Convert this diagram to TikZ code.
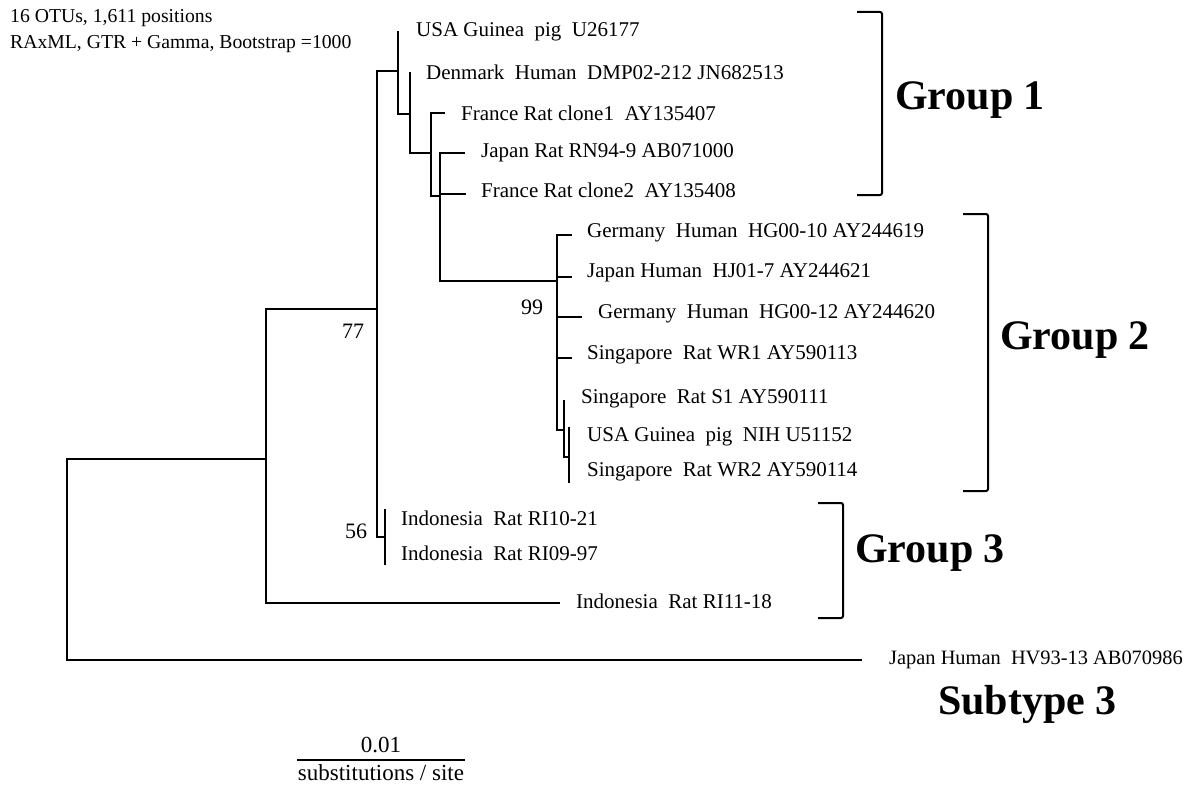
\documentclass[tikz,border=0pt]{standalone}
\usepackage{fontspec}
\setmainfont{Liberation Serif}
\usetikzlibrary{positioning, calc}

\begin{document}
\begin{tikzpicture}[
        x=1pt, y=-1pt,
        branch/.style={line width=2pt},
        leaf/.style={anchor=west, inner sep=0pt, font=\fontsize{21}{25}\selectfont},
        boot/.style={inner sep=0pt, font=\fontsize{22}{26}\selectfont},
        note/.style={anchor=west, inner sep=0pt, font=\fontsize{19.7}{23}\selectfont},
        grouplabel/.style={anchor=west, inner sep=0pt, font=\fontsize{42}{48}\selectfont\bfseries},
        bracket/.style={line width=2pt, rounded corners=2pt}
    ]
    \useasboundingbox (0,0) rectangle (1196,789);

    % header
    \node[note] (otus) at (10,18) {16 OTUs, 1,611 positions};
    \node[note] (method) at (10,44) {RAxML, GTR + Gamma, Bootstrap =1000};

    % internal nodes
    \coordinate (n0) at (67,560);
    \coordinate (n1) at (266,459);
    \coordinate (n2) at (377,309);
    \coordinate (n3) at (398,71);
    \coordinate (n4) at (410,114);
    \coordinate (n5) at (431,153);
    \coordinate (n6) at (440,196);
    \coordinate (n7) at (557,281);
    \coordinate (n8) at (564,430);
    \coordinate (n9) at (569,457);
    \coordinate (n10) at (385,537);

    % tips
    \coordinate (t1) at (398,31);
    \coordinate (t2) at (410,72);
    \coordinate (t3) at (445,113);
    \coordinate (t4) at (465,153);
    \coordinate (t5) at (466,194);
    \coordinate (t6) at (572,235);
    \coordinate (t7) at (572,277);
    \coordinate (t8) at (582,317);
    \coordinate (t9) at (572,358);
    \coordinate (t10) at (564,400);
    \coordinate (t11) at (569,427);
    \coordinate (t12) at (569,483);
    \coordinate (t13) at (385,509);
    \coordinate (t14) at (385,565);
    \coordinate (t15) at (560,603);
    \coordinate (t16) at (862,660);

    % branches
    \draw [branch] (n0) |- (n1);
    \draw [branch] (n0) |- (t16);
    \draw [branch] (n1) |- (n2);
    \draw [branch] (n1) |- (t15);
    \draw [branch] (n2) |- (n3);
    \draw [branch] (n2) |- (n10);
    \draw [branch] (n3) |- (t1);
    \draw [branch] (n3) |- (n4);
    \draw [branch] (n4) |- (t2);
    \draw [branch] (n4) |- (n5);
    \draw [branch] (n5) |- (t3);
    \draw [branch] (n5) |- (n6);
    \draw [branch] (n6) |- (t4);
    \draw [branch] (n6) |- (t5);
    \draw [branch] (n6) |- (n7);
    \draw [branch] (n7) |- (t6);
    \draw [branch] (n7) |- (t7);
    \draw [branch] (n7) |- (t8);
    \draw [branch] (n7) |- (t9);
    \draw [branch] (n7) |- (n8);
    \draw [branch] (n8) |- (t10);
    \draw [branch] (n8) |- (n9);
    \draw [branch] (n9) |- (t11);
    \draw [branch] (n9) |- (t12);
    \draw [branch] (n10) |- (t13);
    \draw [branch] (n10) |- (t14);

    % taxa
    \node[leaf] (usagp1) at (416,32) {USA Guinea\ \ pig\ \ U26177};
    \node[leaf] (denmark) at (426,72) {Denmark\ \ Human\ \ DMP02-212 JN682513};
    \node[leaf] (franceA) at (461,113) {France Rat clone1\ \ AY135407};
    \node[leaf] (japanrat) at (481,153) {Japan Rat RN94-9 AB071000};
    \node[leaf] (franceB) at (481,190) {France Rat clone2\ \ AY135408};
    \node[leaf] (germanyA) at (587,233) {Germany\ \ Human\ \ HG00-10 AY244619};
    \node[leaf] (japanhj) at (587,273) {Japan Human\ \ HJ01-7 AY244621};
    \node[leaf] (germanyB) at (598,314) {Germany\ \ Human\ \ HG00-12 AY244620};
    \node[leaf] (singWR1) at (587,355) {Singapore\ \ Rat WR1 AY590113};
    \node[leaf] (singS1) at (581,399) {Singapore\ \ Rat S1 AY590111};
    \node[leaf] (usagp2) at (587,437) {USA Guinea\ \ pig\ \ NIH U51152};
    \node[leaf] (singWR2) at (587,472) {Singapore\ \ Rat WR2 AY590114};
    \node[leaf] (indoA) at (401,518) {Indonesia\ \ Rat RI10-21};
    \node[leaf] (indoB) at (401,553) {Indonesia\ \ Rat RI09-97};
    \node[leaf] (indoC) at (576,601) {Indonesia\ \ Rat RI11-18};
    \node[leaf, font=\fontsize{20.4}{24}\selectfont] (japanhv) at (889,660) {Japan Human\ \ HV93-13 AB070986};

    % bootstrap values
    \node[boot] (bs77) at (353,331) {77};
    \node[boot] (bs99) at (532,307) {99};
    \node[boot] (bs56) at (356,531) {56};

    % group brackets
    \draw [bracket] (857,12) -- (882,12) -- (882,195) -- (857,195);
    \draw [bracket] (963,214) -- (988,214) -- (988,491) -- (963,491);
    \draw [bracket] (818,503) -- (843,503) -- (843,618) -- (818,618);
    \node[grouplabel] (grp1) at (895,100) {Group 1};
    \node[grouplabel] (grp2) at (1000,340) {Group 2};
    \node[grouplabel] (grp3) at (855,553) {Group 3};
    \node[grouplabel] (sub3) at (938,704) {Subtype 3};

    % scale bar
    \coordinate (sbL) at (297,760);
    \coordinate (sbR) at (465,760);
    \draw [branch] (sbL) -- (sbR);
    \node[boot, font=\fontsize{23}{27}\selectfont, above=7pt of $(sbL)!0.5!(sbR)$] (sbval) {0.01};
    \node[boot, font=\fontsize{23}{27}\selectfont, below=4pt of $(sbL)!0.5!(sbR)$] (sbunit) {substitutions\ /\ site};
\end{tikzpicture}
\end{document}
